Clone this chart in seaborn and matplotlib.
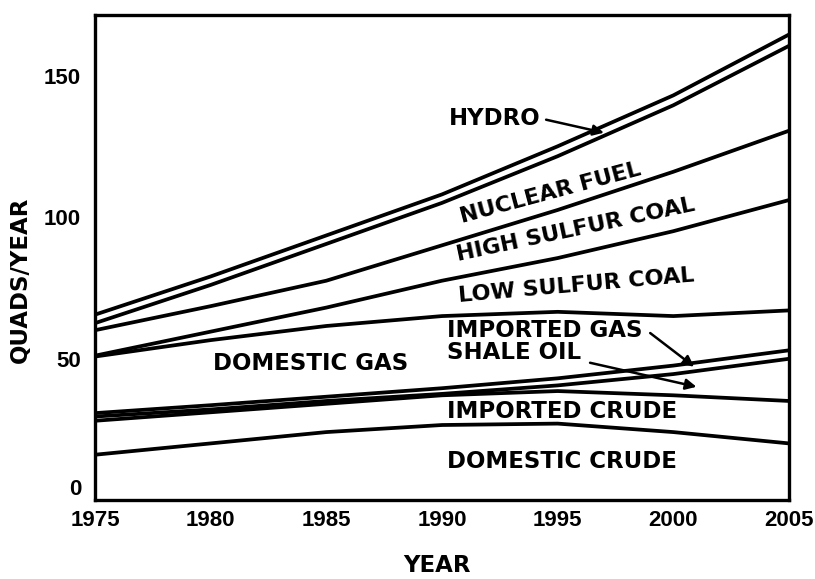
import matplotlib
matplotlib.use("Agg")
import matplotlib.pyplot as plt
import seaborn as sns
import pandas as pd

years = [1975, 1980, 1985, 1990, 1995, 2000, 2005]
domestic_crude = [16.0, 20.0, 24.0, 26.5, 27.0, 24.0, 20.0]
imported_crude = [28.0, 31.0, 34.0, 37.0, 38.5, 37.0, 35.0]
shale_oil = [29.5, 32.0, 35.0, 37.5, 40.5, 44.5, 49.9]
imported_gas = [30.7, 33.5, 36.5, 39.5, 43.0, 47.5, 52.9]
domestic_gas = [50.7, 56.5, 61.5, 65.0, 66.5, 65.0, 67.0]
low_sulfur_coal = [51.0, 59.5, 68.0, 77.5, 85.5, 95.0, 106.0]
high_sulfur_coal = [60.0, 68.5, 77.5, 90.0, 102.5, 116.0, 130.5]
nuclear_fuel = [62.5, 76.0, 90.5, 105.0, 121.5, 139.5, 160.5]
hydro = [65.5, 79.0, 93.5, 108.0, 125.0, 143.0, 164.5]

series = {
    "DOMESTIC CRUDE": domestic_crude,
    "IMPORTED CRUDE": imported_crude,
    "SHALE OIL": shale_oil,
    "IMPORTED GAS": imported_gas,
    "DOMESTIC GAS": domestic_gas,
    "LOW SULFUR COAL": low_sulfur_coal,
    "HIGH SULFUR COAL": high_sulfur_coal,
    "NUCLEAR FUEL": nuclear_fuel,
    "HYDRO": hydro,
}

rows = []
for name, vals in series.items():
    for y, v in zip(years, vals):
        rows.append({"year": y, "value": v, "series": name})
df = pd.DataFrame(rows)

sns.set_style("white")
plt.rcParams["font.family"] = ["Liberation Sans", "DejaVu Sans"]
plt.rcParams.update({"text.color": "black", "axes.labelcolor": "black",
                     "xtick.color": "black", "ytick.color": "black"})

fig = plt.figure(figsize=(8.15, 5.79), dpi=100)
ax = fig.add_axes([95 / 815, 1 - 500 / 579, 694 / 815, 485 / 579])

sns.lineplot(data=df, x="year", y="value", hue="series",
             palette={k: "black" for k in series}, linewidth=2.7,
             legend=False, ax=ax)

ax.set_xlim(1975, 2005)
ax.set_ylim(0, 171.4)
ax.set_xticks(years)
ax.set_yticks([0, 50, 100, 150])
ax.tick_params(axis="x", direction="in", length=8, width=1.5, labelsize=16, pad=7,
               colors="black")
ax.tick_params(axis="y", direction="out", length=7, width=1.5, labelsize=16, pad=3,
               colors="black")
for lab in ax.get_xticklabels() + ax.get_yticklabels():
    lab.set_fontweight("bold")
ax.get_yticklabels()[0].set_verticalalignment("bottom")
for s in ax.spines.values():
    s.set_linewidth(2.4)
    s.set_color("black")

lab_font = dict(family="DejaVu Sans", fontsize=16.5, fontweight="bold", color="black")
ax.set_xlabel("YEAR", **lab_font)
ax.set_ylabel("QUADS/YEAR", **lab_font)
ax.xaxis.set_label_coords((437 - 95) / 694, -(565 - 500) / 485)
ax.yaxis.set_label_coords(-(95 - 20) / 694, (500 - 280) / 485)
ax.xaxis.label.set_verticalalignment("center")
ax.yaxis.label.set_verticalalignment("center")

tk = dict(family="DejaVu Sans", fontsize=16.5, fontweight="bold", va="center",
          color="black")
tr = dict(tk, fontsize=16)
arrow = dict(arrowstyle="-|>", color="black", lw=1.8, mutation_scale=16,
             shrinkA=0, shrinkB=0)

ax.text(1990.3, 134.8, "HYDRO", ha="left", **tk)
ax.annotate("", xy=(1997.0, 129.8), xytext=(1994.5, 134.4), arrowprops=arrow)
ax.text(1994.7, 108.3, "NUCLEAR FUEL", ha="center", rotation=15,
        rotation_mode="anchor", **tr)
ax.text(1995.8, 95.6, "HIGH SULFUR COAL", ha="center", rotation=12,
        rotation_mode="anchor", **tr)
ax.text(1995.8, 75.6, "LOW SULFUR COAL", ha="center", rotation=5,
        rotation_mode="anchor", **tr)
ax.text(1990.2, 59.8, "IMPORTED GAS", ha="left", **tk)
ax.annotate("", xy=(2000.9, 47.1), xytext=(1999.0, 59.0), arrowprops=arrow)
ax.text(1990.2, 52.2, "SHALE OIL", ha="left", **tk)
ax.annotate("", xy=(2001.0, 40.0), xytext=(1996.4, 48.5), arrowprops=arrow)
ax.text(1984.3, 48.4, "DOMESTIC GAS", ha="center", **tk)
ax.text(1990.2, 31.4, "IMPORTED CRUDE", ha="left", **tk)
ax.text(1990.2, 13.7, "DOMESTIC CRUDE", ha="left", **tk)

fig.savefig("out.png", dpi=100)
